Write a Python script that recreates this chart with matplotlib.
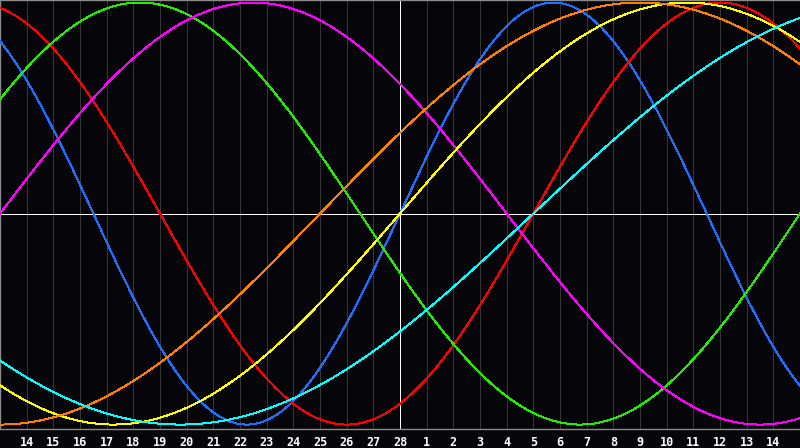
import numpy as np
import matplotlib
matplotlib.use("Agg")
import matplotlib.pyplot as plt

# ---- data ----
days_since_birth = 14835          # day count at the centre of the chart
cycle_names = ["physical", "emotional", "intellectual", "intuitive",
               "aesthetic", "awareness", "spiritual"]
cycle_periods = [23, 28, 33, 38, 43, 48, 53]
cycle_colors = ["#1f6fff", "#ff0000", "#22ee00", "#ff00ff",
                "#ffff00", "#ff8000", "#00ffff"]
day_offsets = list(range(-14, 15))
day_labels = [str(d) for d in list(range(14, 29)) + list(range(1, 15))]

# ---- figure ----
W, H = 800, 448
fig = plt.figure(figsize=(W / 100, H / 100), dpi=100, facecolor="#060509")
ax = fig.add_axes([0, (H - 429) / H, 1, 429 / H])
ax.set_facecolor("#060509")
ax.set_xlim(-15, 15)
ax.set_ylim(-1.021, 1.012)

# vertical grid
for t in range(-15, 16):
    ax.axvline(t, color="#363636", lw=0.72, zorder=1, antialiased=False)

t = np.linspace(-15, 15, 1600)
for name, p, c in zip(cycle_names, cycle_periods, cycle_colors):
    y = np.sin(2 * np.pi * (days_since_birth + t) / p)
    ax.plot(t, y, color=c, lw=0.72, zorder=3, antialiased=False)

ax.axvline(0, color="white", lw=0.72, zorder=2, antialiased=False)
ax.axhline(0, color="white", lw=0.72, zorder=2, antialiased=False)

for s in ax.spines.values():
    s.set_color("#8a8a8a")
    s.set_linewidth(1.0)
ax.spines["right"].set_visible(False)

ax.set_yticks([])
ax.set_xticks(day_offsets)
ax.set_xticklabels(day_labels, color="white", fontsize=8.5,
                   fontweight="bold", family="DejaVu Sans Mono")
ax.tick_params(axis="x", length=0, pad=5)

fig.savefig("out.png", dpi=100, facecolor=fig.get_facecolor())
